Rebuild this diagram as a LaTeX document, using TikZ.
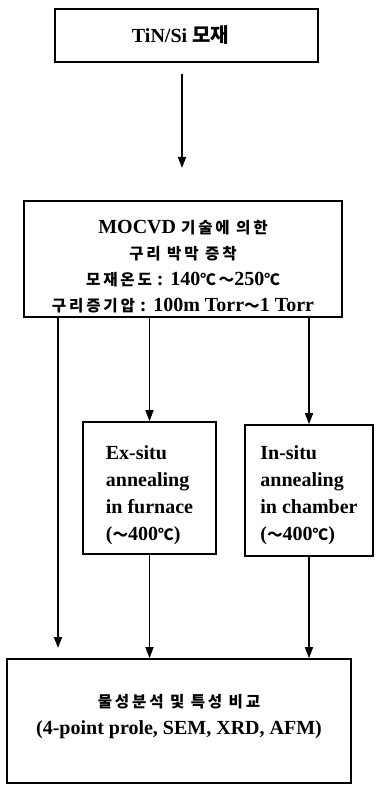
\documentclass[tikz,border=0pt]{standalone}
\usepackage{fontspec}
\setmainfont{Liberation Serif}
\newfontfamily\kr[Scale=0.78,LetterSpace=18]{Noto Sans CJK KR}
\newfontfamily\krbig{Noto Sans CJK KR}
\usetikzlibrary{arrows.meta,positioning,calc}
\newcommand{\cdeg}{{\kr ℃}}
\newcommand{\wavedash}{{\kr ～}}
\newcommand{\dropby}[1]{\rule{0pt}{#1}}
\tikzset{
  stagebox/.style={draw, line width=1.6pt, align=center, inner sep=0pt,
        font=\fontsize{20}{26}\selectfont\bfseries},
  stepnote/.style={stagebox, align=left, font=\fontsize{20}{27}\selectfont\bfseries},
  flow/.style={line width=1.6pt, -{Triangle[length=11pt,width=8pt]}}
}

\begin{document}
\begin{tikzpicture}[x=1pt, y=-1pt]
  \useasboundingbox (0,0) rectangle (375,786);

  \node[stagebox, minimum width=263pt, minimum height=53pt] (sub) at (186.5, 35.5)
       {TiN/Si {\krbig 모재}\hspace*{12pt}};

  \node[stagebox, minimum width=318pt, minimum height=116pt] (mocvd) at (183, 259)
       {\dropby{28pt}MOCVD {\kr 기술에 의한}\\
        {\kr 구리 박막 증착}\\
        {\kr 모재온도} : 140\cdeg\wavedash250\cdeg\\
        {\kr 구리증기압} : 100m Torr\wavedash1 Torr};

  \node[stepnote, minimum width=133pt, minimum height=132pt] (exsitu) at (149.5, 488)
       {\dropby{28pt}Ex-situ\\ annealing\\ in furnace\\ (\wavedash400\cdeg)};

  \node[stepnote, minimum width=128pt, minimum height=131pt] (insitu) at (309, 490.5)
       {\dropby{23pt}In-situ\\ annealing\\ in chamber\\ (\wavedash400\cdeg)};

  \node[stagebox, minimum width=344pt, minimum height=124pt,
        font=\fontsize{20}{27}\selectfont\bfseries] (ana) at (179, 721)
       {{\kr 물성분석 및 특성 비교}\\
        (4-point prole, SEM, XRD, AFM)\rule[-13pt]{0pt}{1pt}};

  % connectors
  \coordinate (tend) at (182, 168);
  \coordinate (lend) at (58, 648);
  \draw[flow] ($(sub.south -| tend)+(0,11)$) -- (tend);
  \draw[flow] (mocvd.south -| lend) -- (lend);
  \draw[flow] (mocvd.south -| exsitu.north) -- (exsitu.north);
  \draw[flow] (mocvd.south -| insitu.north) -- (insitu.north);
  \draw[flow] (exsitu.south) -- (exsitu.south |- ana.north);
  \draw[flow] (insitu.south) -- (insitu.south |- ana.north);
\end{tikzpicture}
\end{document}
